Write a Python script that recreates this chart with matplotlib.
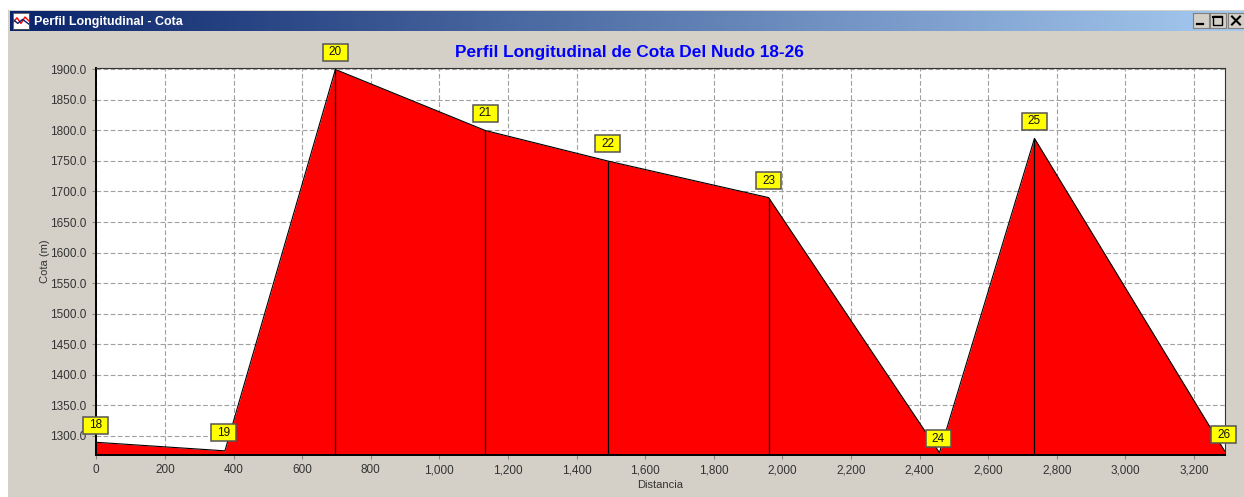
import numpy as np
import matplotlib
matplotlib.use("Agg")
import matplotlib.pyplot as plt
from matplotlib.patches import Rectangle
from matplotlib.transforms import IdentityTransform

# =========================
# Data
# =========================

nodes = ["18", "19", "20", "21", "22", "23", "24", "25", "26"]
distancia = [0, 375, 697, 1134, 1491, 1960, 2458, 2735, 3289]
cota = [1289, 1275, 1900, 1800, 1750, 1690, 1272, 1787, 1275]

x_ticks = [0, 200, 400, 600, 800, 1000, 1200, 1400, 1600, 1800, 2000,
           2200, 2400, 2600, 2800, 3000, 3200]
y_ticks = [1300, 1350, 1400, 1450, 1500, 1550, 1600, 1650, 1700, 1750,
           1800, 1850, 1900]

# =========================
# Layout (pixels)
# =========================

W, H = 1244, 497
GRAY = "#d4d0c8"
PLOT = (96.3, 67.5, 1224.5, 454.5)  # left, top, right, bottom

# label box offset from its node, in pixels (right, up)
label_offsets = {
    "18": (-1, 17), "19": (-1, 18), "24": (-1, 14), "26": (-1, 16),
}

plt.rcParams["font.family"] = ["Liberation Sans", "DejaVu Sans"]


def px_axes(fig, left, top, right, bottom):
    return fig.add_axes([left / W, 1 - bottom / H, (right - left) / W, (bottom - top) / H])


def window_button(fig, left, glyph):
    ax = px_axes(fig, left, 13, left + 16, 28)
    ax.set_xticks([])
    ax.set_yticks([])
    ax.set_xlim(0, 16)
    ax.set_ylim(15, 0)
    ax.set_facecolor(GRAY)
    for spine in ax.spines.values():
        spine.set_color("#808080")
        spine.set_linewidth(0.8)
    if glyph == "min":
        ax.plot([4, 10], [11, 11], color="black", lw=1.6)
    elif glyph == "max":
        ax.add_patch(Rectangle((3, 3), 9, 9, fill=False, ec="black", lw=1))
        ax.plot([3, 12], [3.5, 3.5], color="black", lw=1.5)
    else:
        ax.plot([4, 12], [3.5, 11.5], color="black", lw=1.5)
        ax.plot([12, 4], [3.5, 11.5], color="black", lw=1.5)


def main():
    fig = plt.figure(figsize=(W / 100, H / 100), dpi=100, facecolor="white")

    # Window body
    body = px_axes(fig, 8, 10, W, H)
    body.set_facecolor(GRAY)
    body.axis("off")
    body.add_patch(Rectangle((0, 0), 1, 1, transform=body.transAxes, color=GRAY))

    # Title bar gradient
    bar = px_axes(fig, 10, 11, W, 31)
    start = np.array([0x0a, 0x24, 0x6a]) / 255
    end = np.array([0xa6, 0xca, 0xf0]) / 255
    ramp = np.linspace(0, 1, 256)[None, :, None]
    bar.imshow(start + (end - start) * ramp, aspect="auto", extent=(0, 1, 0, 1))
    bar.axis("off")
    bar.text(24 / (W - 10), 0.47, "Perfil Longitudinal - Cota", transform=bar.transAxes,
             color="white", fontsize=9, fontweight="bold", va="center", ha="left")

    # Title bar icon
    icon = px_axes(fig, 13, 13, 29, 29)
    icon.set_facecolor("white")
    icon.set_xticks([])
    icon.set_yticks([])
    icon.plot([0, 0.25, 0.5, 0.75, 1], [0.4, 0.7, 0.35, 0.75, 0.5], color="red", lw=1)
    icon.plot([0, 0.3, 0.6, 1], [0.6, 0.35, 0.6, 0.3], color="#0a246a", lw=1)
    icon.set_xlim(0, 1)
    icon.set_ylim(0, 1)
    for spine in icon.spines.values():
        spine.set_color("#555555")
        spine.set_linewidth(0.6)

    window_button(fig, 1193, "min")
    window_button(fig, 1210, "max")
    window_button(fig, 1228, "close")

    # Main chart
    ax = px_axes(fig, PLOT[0], PLOT[1], PLOT[2], PLOT[3])
    ax.set_facecolor("white")
    ax.fill_between(distancia, cota, 1269, color="#ff0000", lw=0, zorder=2)
    ax.plot(distancia, cota, color="black", lw=0.8, zorder=3)
    ax.vlines(distancia[2:-1], 1269, cota[2:-1], color="black", lw=0.9, zorder=3)
    ax.set_xlim(0, 3289)
    ax.set_ylim(1269, 1903.2)

    ax.set_xticks(x_ticks)
    ax.set_xticklabels([f"{v:,}" for v in x_ticks], fontsize=8.5, color="#333333")
    ax.set_yticks(y_ticks)
    ax.set_yticklabels([f"{v:.1f}" for v in y_ticks], fontsize=8.5, color="#333333")
    ax.tick_params(axis="both", length=3, width=0.8, color="#888888", pad=4)
    ax.grid(True, color="#a0a0a0", linestyle=(0, (4.2, 2.2)), linewidth=0.8, zorder=1)
    ax.set_axisbelow(True)

    for spine in ax.spines.values():
        spine.set_color("#333333")
        spine.set_linewidth(0.8)
    ax.spines["left"].set_linewidth(1.4)
    ax.spines["bottom"].set_linewidth(1.4)
    ax.spines["left"].set_color("black")
    ax.spines["bottom"].set_color("black")

    ax.set_xlabel("Distancia", fontsize=8, color="#333333", labelpad=3)
    ax.set_ylabel("Cota (m)", fontsize=8, color="#333333", labelpad=0)
    fig.text(629.5 / W, 1 - 52 / H, "Perfil Longitudinal de Cota Del Nudo 18-26",
             color="#0000ff", fontsize=12.4, fontweight="bold", ha="center", va="center")

    # Node labels: fixed 25x17 px boxes placed from the data transform
    for name, x, y in zip(nodes, distancia, cota):
        dx, dy = label_offsets.get(name, (0, 17))
        cx, cy = ax.transData.transform((x, y))
        cx, cy = cx + dx, cy + dy
        ax.add_patch(Rectangle((cx - 12.5, cy - 8.5), 25, 17, transform=IdentityTransform(),
                               fc="#ffff00", ec="#555555", lw=1.1, clip_on=False, zorder=5))
        ax.text(cx, cy, name, transform=IdentityTransform(), ha="center", va="center",
                fontsize=8.5, color="#111111", zorder=6, clip_on=False)

    fig.savefig("out.png", dpi=100, facecolor="white")
    plt.close(fig)


if __name__ == "__main__":
    main()
